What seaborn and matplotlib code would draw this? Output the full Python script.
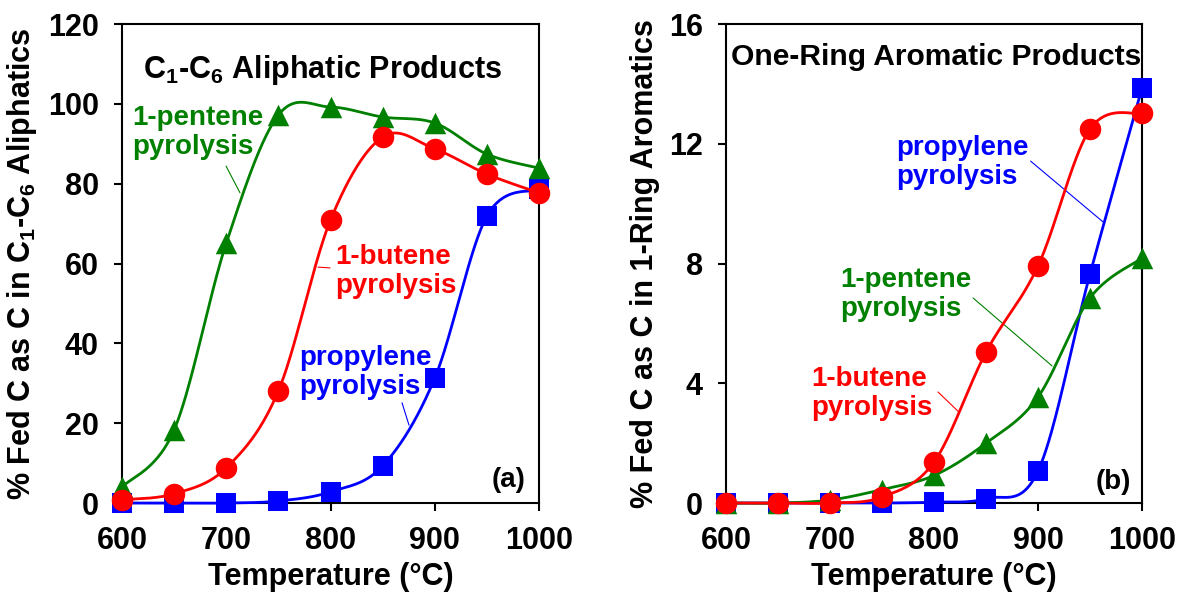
import numpy as np
import pandas as pd
import matplotlib
matplotlib.use("Agg")
import matplotlib.pyplot as plt
import seaborn as sns

# ---------------- data ----------------
temps = [600, 650, 700, 750, 800, 850, 900, 950, 1000]

# panel (a): C1-C6 aliphatic products
ali_pentene = [4.0, 18.3, 65.1, 97.2, 99.2, 96.7, 95.2, 87.4, 83.9]
ali_butene = [0.8, 2.3, 8.8, 28.1, 70.9, 91.7, 88.7, 82.4, 77.7]
ali_propylene = [0.0, 0.0, 0.0, 0.5, 2.8, 9.3, 31.3, 71.9, 78.6]

# panel (b): one-ring aromatic products
aro_pentene = [0.0, 0.0, 0.1, 0.45, 0.92, 2.0, 3.54, 6.85, 8.18]
aro_butene = [0.0, 0.0, 0.0, 0.2, 1.37, 5.04, 7.92, 12.49, 13.02]
aro_propylene = [0.0, 0.0, 0.0, 0.0, 0.03, 0.15, 1.07, 7.65, 13.86]

x_ticks = [600, 700, 800, 900, 1000]
ya_ticks = [0, 20, 40, 60, 80, 100, 120]
yb_ticks = [0, 4, 8, 12, 16]

GREEN = "#008000"
RED = "#FF0000"
BLUE = "#0000FF"

sns.set_theme(style="white")
plt.rcParams["font.family"] = ["Liberation Sans", "DejaVu Sans"]
plt.rcParams["font.weight"] = "bold"
plt.rcParams["mathtext.fontset"] = "custom"
plt.rcParams["mathtext.rm"] = "Liberation Sans:bold"
plt.rcParams["mathtext.bf"] = "Liberation Sans:bold"
plt.rcParams["mathtext.it"] = "Liberation Sans:bold"


def smooth(x, y, sx, sy, n=40):
    """Catmull-Rom style Bezier smoothing (like spreadsheet smoothed lines)."""
    X = np.asarray(x, float) * sx
    Y = np.asarray(y, float) * sy
    P = np.column_stack([X, Y])
    out = []
    t = np.linspace(0, 1, n)[:, None]
    for i in range(len(P) - 1):
        p0 = P[i - 1] if i > 0 else P[i]
        p1 = P[i]
        p2 = P[i + 1]
        p3 = P[i + 2] if i + 2 < len(P) else P[i + 1]
        c1 = p1 + (p2 - p0) / 6.0
        c2 = p2 - (p3 - p1) / 6.0
        seg = ((1 - t) ** 3) * p1 + 3 * ((1 - t) ** 2) * t * c1 + 3 * (1 - t) * t ** 2 * c2 + t ** 3 * p2
        out.append(seg if i == 0 else seg[1:])
    S = np.vstack(out)
    return S[:, 0] / sx, S[:, 1] / sy


fig = plt.figure(figsize=(11.8, 5.96), dpi=100)
axA = fig.add_axes([0.1034, 0.156, 0.3534, 0.8037])
axB = fig.add_axes([0.6153, 0.156, 0.3525, 0.8037])


def draw_panel(ax, series, ymax, yticks, ylabel):
    sx = ax.get_position().width * 1180 / 400.0
    sy = ax.get_position().height * 596 / ymax
    z = 3
    for vals, color, marker, size in series:
        xs, ys = smooth(temps, vals, sx, sy)
        df_line = pd.DataFrame({"T": xs, "v": ys})
        sns.lineplot(data=df_line, x="T", y="v", ax=ax, color=color, lw=2.0,
                     estimator=None, sort=False, zorder=z, clip_on=False)
        df_pts = pd.DataFrame({"T": temps, "v": vals})
        sns.scatterplot(data=df_pts, x="T", y="v", ax=ax, color=color, marker=marker,
                        s=size, linewidth=0, zorder=z + 0.5, clip_on=False)
        z += 1
    ax.set_xlim(600, 1000)
    ax.set_ylim(0, ymax)
    ax.set_xticks(x_ticks)
    ax.set_yticks(yticks)
    ax.tick_params(axis="both", which="major", direction="out", length=5.8, width=1.5,
                   pad=11, labelsize=22, colors="black", left=True, bottom=True)
    for lab in ax.get_xticklabels() + ax.get_yticklabels():
        lab.set_fontweight("bold")
    for sp in ax.spines.values():
        sp.set_visible(True)
        sp.set_color("black")
        sp.set_linewidth(1.5)
    ax.set_xlabel("Temperature (°C)", fontsize=22, fontweight="bold", labelpad=4, color="black")
    ax.set_ylabel(ylabel, fontsize=22, fontweight="bold", labelpad=6, color="black")
    ax.grid(False)


draw_panel(axA,
           [(ali_propylene, BLUE, "s", 225), (ali_pentene, GREEN, "^", 240), (ali_butene, RED, "o", 240)],
           120, ya_ticks, r"% Fed C as C in C$_\mathbf{1}$-C$_\mathbf{6}$ Aliphatics")
draw_panel(axB,
           [(aro_propylene, BLUE, "s", 225), (aro_pentene, GREEN, "^", 240), (aro_butene, RED, "o", 240)],
           16, yb_ticks, "% Fed C as C in 1-Ring Aromatics")

tkw = dict(fontsize=20, fontweight="bold", ha="left", va="center", linespacing=1.15)

# panel (a) annotations
axA.text(620, 108.6, r"C$_\mathbf{1}$-C$_\mathbf{6}$ Aliphatic Products", fontsize=22,
         fontweight="bold", ha="left", va="center", color="black")
axA.text(609.6, 92.7, "1-pentene\npyrolysis", color=GREEN, **tkw)
axA.plot([699.8, 713.2], [84.4, 77.7], color=GREEN, lw=0.8)
axA.text(804.3, 57.9, "1-butene\npyrolysis", color=RED, **tkw)
axA.plot([788, 799.5], [59.1, 58.9], color=RED, lw=0.8)
axA.text(769.8, 32.8, "propylene\npyrolysis", color=BLUE, **tkw)
axA.plot([868.6, 875.3], [25.1, 19.5], color=BLUE, lw=0.8)
axA.text(987.5, 5.8, "(a)", fontsize=20, fontweight="bold", ha="right", va="center", color="black")

# panel (b) annotations
axB.text(604.8, 14.9, "One-Ring Aromatic Products", fontsize=21.6,
         fontweight="bold", ha="left", va="center", color="black")
axB.text(763.5, 11.39, "propylene\npyrolysis", color=BLUE, **tkw)
axB.plot([892.9, 962.5], [11.42, 9.39], color=BLUE, lw=0.8)
axB.text(709.6, 6.98, "1-pentene\npyrolysis", color=GREEN, **tkw)
axB.plot([837.5, 913.5], [6.85, 4.58], color=GREEN, lw=0.8)
axB.text(681.7, 3.67, "1-butene\npyrolysis", color=RED, **tkw)
axB.plot([803.8, 823.0], [3.71, 3.07], color=RED, lw=0.8)
axB.text(989.4, 0.70, "(b)", fontsize=20, fontweight="bold", ha="right", va="center", color="black")

fig.savefig("out.png", dpi=100, facecolor="white")
